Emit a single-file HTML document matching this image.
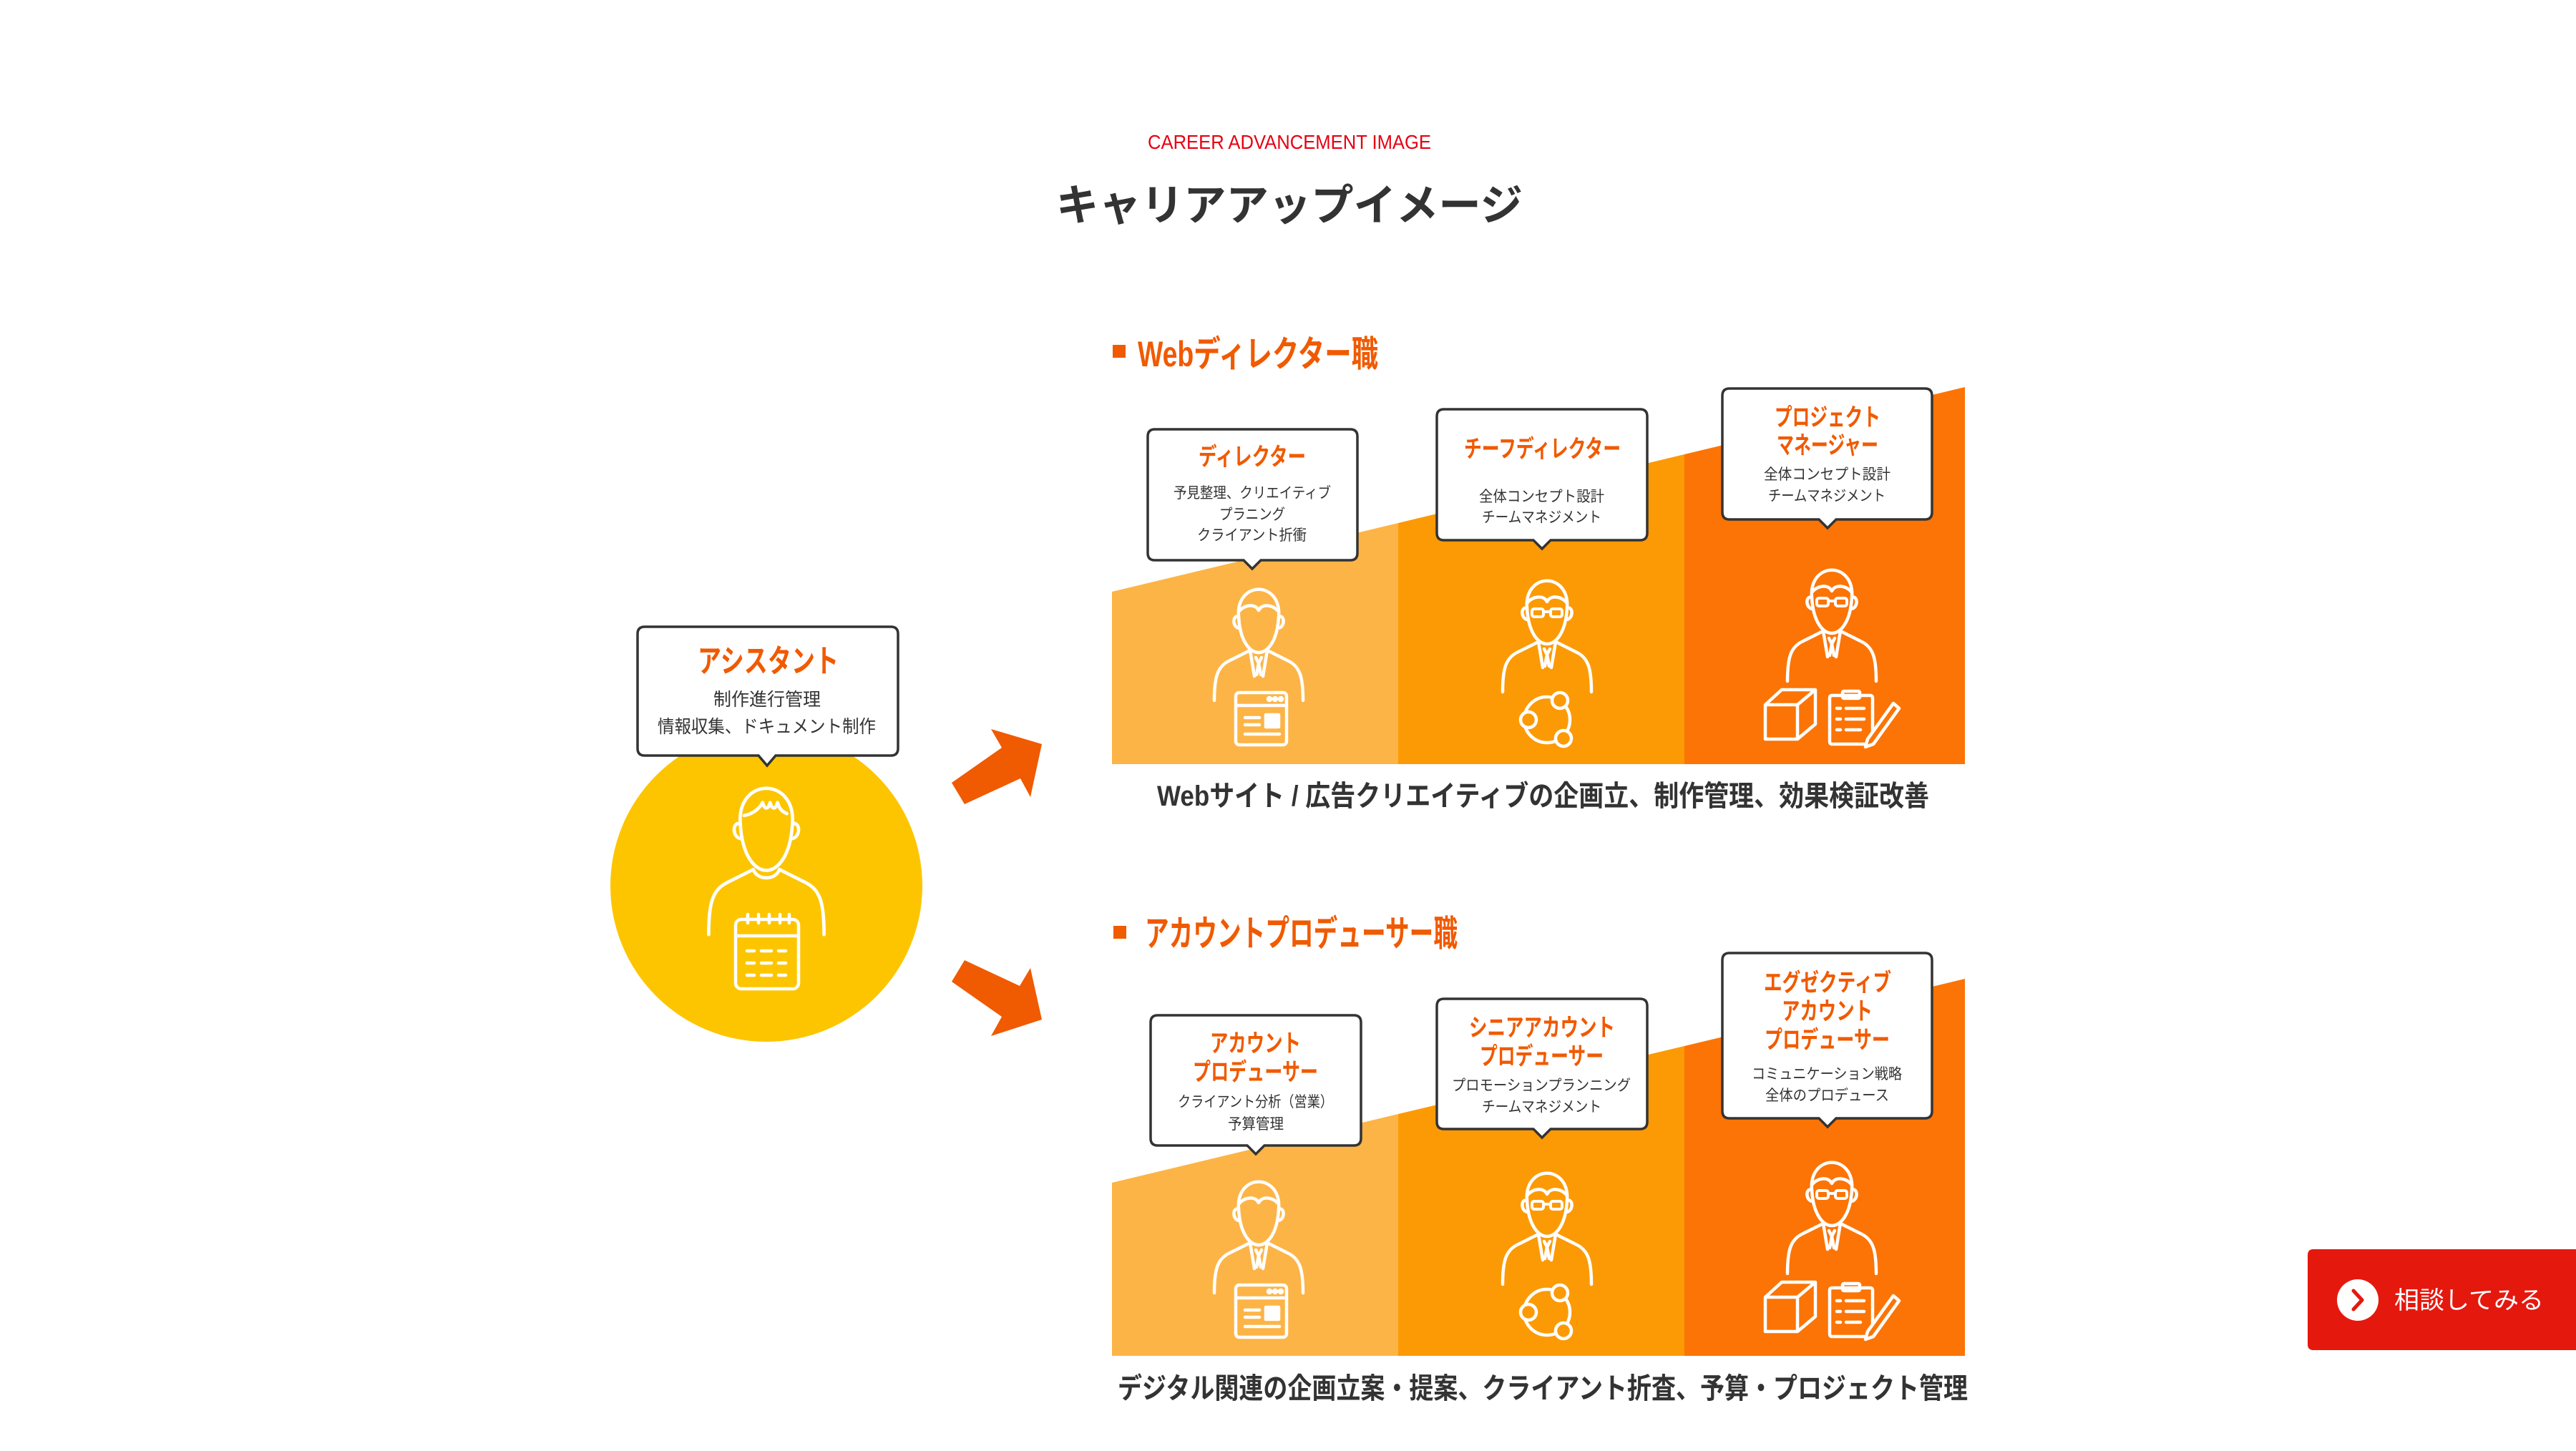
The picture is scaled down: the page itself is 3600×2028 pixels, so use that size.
<!DOCTYPE html>
<html><head><meta charset="utf-8"><style>
html,body{margin:0;padding:0;background:#fff;}
svg{display:block;}
text{font-family:"Liberation Sans","Noto Sans CJK JP",sans-serif;}
</style></head><body>
<svg width="3600" height="2028" viewBox="0 0 3600 2028" xmlns="http://www.w3.org/2000/svg">
<defs>
<g id="man" fill="none" stroke="#fff" stroke-width="4.5" stroke-linecap="round" stroke-linejoin="round">
 <path d="M-28,-5 C-32,-56 32,-56 28,-5 C26,30 12,45 0,45 C-12,45 -26,30 -28,-5Z"/>
 <path d="M-28,-12 C-20,-22 -5,-24 0,-14 C5,-24 20,-22 28,-12"/>
 <path d="M-28,-5 C-37,-8 -37,10 -27,11"/><path d="M28,-5 C37,-8 37,10 27,11"/>
 <path d="M-12,42 L-40,56 C-58,64 -62,80 -62,112"/><path d="M12,42 L40,56 C58,64 62,80 62,112"/>
 <path d="M-12,42 L-6,78 M12,42 L6,78 M-4,52 L0,60 L4,52 M0,60 L-3,76 M0,60 L3,76"/>
</g>
<g id="glasses" fill="none" stroke="#fff" stroke-width="4" stroke-linejoin="round">
 <rect x="-21" y="-4" width="16" height="11" rx="3"/><rect x="5" y="-4" width="16" height="11" rx="3"/><path d="M-5,0 H5"/>
</g>
<g id="webicon" fill="none" stroke="#fff" stroke-width="4.5" stroke-linejoin="round" stroke-linecap="round">
 <rect x="1727" y="968" width="71" height="73" rx="5"/><path d="M1727,986 H1798"/>
 <path d="M1740,1003 H1760 M1740,1013 H1760 M1740,1026 H1788"/>
 <rect x="1769" y="999" width="18" height="17" fill="#fff"/>
 <circle cx="1774" cy="977" r="2" fill="#fff"/><circle cx="1782" cy="977" r="2" fill="#fff"/><circle cx="1790" cy="977" r="2" fill="#fff"/>
</g>
<g id="neticon" stroke="#fff" stroke-width="4.5">
 <circle cx="2162" cy="1006" r="32" fill="none"/>
 <circle cx="2180" cy="979" r="11" fill="#fc9a05"/><circle cx="2136" cy="1006" r="11" fill="#fc9a05"/><circle cx="2185" cy="1032" r="11" fill="#fc9a05"/>
</g>
<g id="pmicon" fill="none" stroke="#fff" stroke-width="4.5" stroke-linejoin="round" stroke-linecap="round">
 <path d="M2467,985 H2512 V1033 H2467Z M2467,985 L2490,964 H2537 L2512,985 M2537,964 V1012 L2512,1033"/>
 <rect x="2557" y="972" width="60" height="68" rx="3"/><rect x="2575" y="966" width="24" height="10" rx="2"/>
 <path d="M2567,990 h5 M2580,990 H2605 M2567,1005 h5 M2580,1005 H2605 M2567,1020 h5 M2580,1020 H2600"/>
 <path d="M2646,983 L2654,990 L2618,1040 L2607,1044 L2610,1033Z" fill="#fc7405"/>
</g>
</defs>

<text x="1604" y="208" font-size="28" fill="#e60012" textLength="396" lengthAdjust="spacingAndGlyphs">CAREER ADVANCEMENT IMAGE</text>
<text x="1476" y="308" font-size="60" font-weight="bold" fill="#333" textLength="652" lengthAdjust="spacingAndGlyphs">キャリアアップイメージ</text>

<circle cx="1071" cy="1238" r="218" fill="#fdc500"/>
<g transform="translate(1071,1158) scale(1.3)" fill="none" stroke="#fff" stroke-width="3.6" stroke-linecap="round" stroke-linejoin="round">
 <path d="M-28,-5 C-32,-56 32,-56 28,-5 C26,30 12,45 0,45 C-12,45 -26,30 -28,-5Z"/>
 <path d="M-24,-14 C-12,-16 -6,-24 -4,-28 C-2,-20 2,-20 4,-28 C6,-20 10,-20 12,-28 C14,-20 18,-18 22,-16"/>
 <path d="M-28,-5 C-37,-8 -37,10 -27,11"/><path d="M28,-5 C37,-8 37,10 27,11"/>
 <path d="M-14,44 C-10,56 10,56 14,44"/>
 <path d="M-14,44 L-42,58 C-58,66 -62,80 -62,114"/><path d="M14,44 L42,58 C58,66 62,80 62,114"/>
</g>
<g fill="none" stroke="#fff" stroke-width="4.5" stroke-linecap="round">
 <rect x="1028" y="1285" width="88" height="97" rx="8"/><path d="M1028,1308 H1116"/>
 <path d="M1045,1278 v12 M1060,1278 v12 M1075,1278 v12 M1090,1278 v12 M1103,1278 v12"/>
 <path d="M1044,1329 h10 M1064,1329 h14 M1088,1329 h10 M1044,1346 h10 M1064,1346 h14 M1088,1346 h10 M1044,1363 h10 M1064,1363 h14 M1088,1363 h10"/>
</g>
<path d="M901,876 H1245 Q1255,876 1255,886 V1046 Q1255,1056 1245,1056 H1084 L1072,1070 L1060,1056 H901 Q891,1056 891,1046 V886 Q891,876 901,876Z" fill="#fff" stroke="#333" stroke-width="3.5"/>
<text x="975" y="939" font-size="44" font-weight="bold" fill="#f05a00" textLength="197" lengthAdjust="spacingAndGlyphs">アシスタント</text>
<text x="997" y="986" font-size="25" fill="#333" textLength="150" lengthAdjust="spacingAndGlyphs">制作進行管理</text>
<text x="919" y="1024" font-size="25" fill="#333" textLength="305" lengthAdjust="spacingAndGlyphs">情報収集、ドキュメント制作</text>

<polygon points="1330,1094 1400,1045 1385,1019 1456,1040 1440,1114 1426,1088 1348,1124" fill="#f05a00"/>
<polygon points="1348,1342 1425,1378 1440,1353 1456,1425 1385,1448 1400,1421 1330,1372" fill="#f05a00"/>

<rect x="1555" y="482" width="18" height="18" fill="#f05a00"/>
<text x="1590" y="512" font-size="50" font-weight="bold" fill="#f05a00" textLength="336" lengthAdjust="spacingAndGlyphs">Webディレクター職</text>
<polygon points="1554,827 1954,731 1954,1068 1554,1068" fill="#fdb446"/>
<polygon points="1954,731 2354,635 2354,1068 1954,1068" fill="#fc9a05"/>
<polygon points="2354,635 2746,541 2746,1068 2354,1068" fill="#fc7405"/>
<use href="#man" transform="translate(1759,867)"/>
<use href="#man" transform="translate(2162,855)"/><use href="#glasses" transform="translate(2162,855)"/>
<use href="#man" transform="translate(2560,840)"/><use href="#glasses" transform="translate(2560,840)"/>
<use href="#webicon"/><use href="#neticon"/><use href="#pmicon"/>

<path d="M1614,600 H1887 Q1897,600 1897,610 V773 Q1897,783 1887,783 H1762 L1750,795 L1738,783 H1614 Q1604,783 1604,773 V610 Q1604,600 1614,600Z" fill="#fff" stroke="#333" stroke-width="3.5"/>
<path d="M2018,572 H2292 Q2302,572 2302,582 V745 Q2302,755 2292,755 H2167 L2155,767 L2143,755 H2018 Q2008,755 2008,745 V582 Q2008,572 2018,572Z" fill="#fff" stroke="#333" stroke-width="3.5"/>
<path d="M2417,543 H2690 Q2700,543 2700,553 V716 Q2700,726 2690,726 H2566 L2554,738 L2542,726 H2417 Q2407,726 2407,716 V553 Q2407,543 2417,543Z" fill="#fff" stroke="#333" stroke-width="3.5"/>
<g font-weight="bold" fill="#f05a00" font-size="34">
<text x="1675" y="650" textLength="150" lengthAdjust="spacingAndGlyphs">ディレクター</text>
<text x="2046" y="639" textLength="219" lengthAdjust="spacingAndGlyphs">チーフディレクター</text>
<text x="2480" y="595" textLength="148" lengthAdjust="spacingAndGlyphs">プロジェクト</text>
<text x="2483" y="634" textLength="142" lengthAdjust="spacingAndGlyphs">マネージャー</text>
</g>
<g fill="#333" font-size="21">
<text x="1640" y="696" textLength="220" lengthAdjust="spacingAndGlyphs">予見整理、クリエイティブ</text>
<text x="1704" y="726" textLength="92" lengthAdjust="spacingAndGlyphs">プラニング</text>
<text x="1673" y="755" textLength="153" lengthAdjust="spacingAndGlyphs">クライアント折衝</text>
<text x="2067" y="701" textLength="175" lengthAdjust="spacingAndGlyphs">全体コンセプト設計</text>
<text x="2071" y="730" textLength="167" lengthAdjust="spacingAndGlyphs">チームマネジメント</text>
<text x="2465" y="670" textLength="177" lengthAdjust="spacingAndGlyphs">全体コンセプト設計</text>
<text x="2471" y="700" textLength="164" lengthAdjust="spacingAndGlyphs">チームマネジメント</text>
</g>
<text x="1617" y="1126" font-size="40" font-weight="bold" fill="#333" textLength="1079" lengthAdjust="spacingAndGlyphs">Webサイト / 広告クリエイティブの企画立、制作管理、効果検証改善</text>

<rect x="1556" y="1294" width="18" height="18" fill="#f05a00"/>
<text x="1600" y="1322" font-size="50" font-weight="bold" fill="#f05a00" textLength="437" lengthAdjust="spacingAndGlyphs">アカウントプロデューサー職</text>
<polygon points="1554,1653 1954,1557 1954,1895 1554,1895" fill="#fdb446"/>
<polygon points="1954,1557 2354,1462 2354,1895 1954,1895" fill="#fc9a05"/>
<polygon points="2354,1462 2746,1368 2746,1895 2354,1895" fill="#fc7405"/>
<g transform="translate(0,828)">
<use href="#man" transform="translate(1759,867)"/>
<use href="#man" transform="translate(2162,855)"/><use href="#glasses" transform="translate(2162,855)"/>
<use href="#man" transform="translate(2560,840)"/><use href="#glasses" transform="translate(2560,840)"/>
<use href="#webicon"/><use href="#neticon"/><use href="#pmicon"/>
</g>
<path d="M1618,1419 H1892 Q1902,1419 1902,1429 V1591 Q1902,1601 1892,1601 H1767 L1755,1613 L1743,1601 H1618 Q1608,1601 1608,1591 V1429 Q1608,1419 1618,1419Z" fill="#fff" stroke="#333" stroke-width="3.5"/>
<path d="M2018,1396 H2292 Q2302,1396 2302,1406 V1568 Q2302,1578 2292,1578 H2167 L2155,1590 L2143,1578 H2018 Q2008,1578 2008,1568 V1406 Q2008,1396 2018,1396Z" fill="#fff" stroke="#333" stroke-width="3.5"/>
<path d="M2417,1332 H2690 Q2700,1332 2700,1342 V1553 Q2700,1563 2690,1563 H2566 L2554,1575 L2542,1563 H2417 Q2407,1563 2407,1553 V1342 Q2407,1332 2417,1332Z" fill="#fff" stroke="#333" stroke-width="3.5"/>
<g font-weight="bold" fill="#f05a00" font-size="34">
<text x="1691" y="1470" textLength="127" lengthAdjust="spacingAndGlyphs">アカウント</text>
<text x="1667" y="1510" textLength="175" lengthAdjust="spacingAndGlyphs">プロデューサー</text>
<text x="2053" y="1448" textLength="204" lengthAdjust="spacingAndGlyphs">シニアアカウント</text>
<text x="2068" y="1488" textLength="173" lengthAdjust="spacingAndGlyphs">プロデューサー</text>
<text x="2465" y="1385" textLength="178" lengthAdjust="spacingAndGlyphs">エグゼクティブ</text>
<text x="2490" y="1425" textLength="127" lengthAdjust="spacingAndGlyphs">アカウント</text>
<text x="2466" y="1465" textLength="175" lengthAdjust="spacingAndGlyphs">プロデューサー</text>
</g>
<g fill="#333" font-size="21">
<text x="1646" y="1547" textLength="217" lengthAdjust="spacingAndGlyphs">クライアント分析（営業）</text>
<text x="1716" y="1578" textLength="78" lengthAdjust="spacingAndGlyphs">予算管理</text>
<text x="2029" y="1524" textLength="250" lengthAdjust="spacingAndGlyphs">プロモーションプランニング</text>
<text x="2071" y="1554" textLength="167" lengthAdjust="spacingAndGlyphs">チームマネジメント</text>
<text x="2448" y="1508" textLength="210" lengthAdjust="spacingAndGlyphs">コミュニケーション戦略</text>
<text x="2467" y="1538" textLength="173" lengthAdjust="spacingAndGlyphs">全体のプロデュース</text>
</g>
<text x="1562" y="1954" font-size="40" font-weight="bold" fill="#333" textLength="1188" lengthAdjust="spacingAndGlyphs">デジタル関連の企画立案・提案、クライアント折査、予算・プロジェクト管理</text>

<path d="M3233,1746 H3600 V1887 H3233 Q3225,1887 3225,1879 V1754 Q3225,1746 3233,1746Z" fill="#e5180e"/>
<circle cx="3295" cy="1817" r="29" fill="#fff"/>
<polyline points="3289,1804 3301,1817 3289,1830" fill="none" stroke="#e5180e" stroke-width="5" stroke-linecap="round" stroke-linejoin="round"/>
<text x="3346" y="1829" font-size="34" fill="#fff" textLength="209" lengthAdjust="spacingAndGlyphs">相談してみる</text>
</svg>
</body></html>
